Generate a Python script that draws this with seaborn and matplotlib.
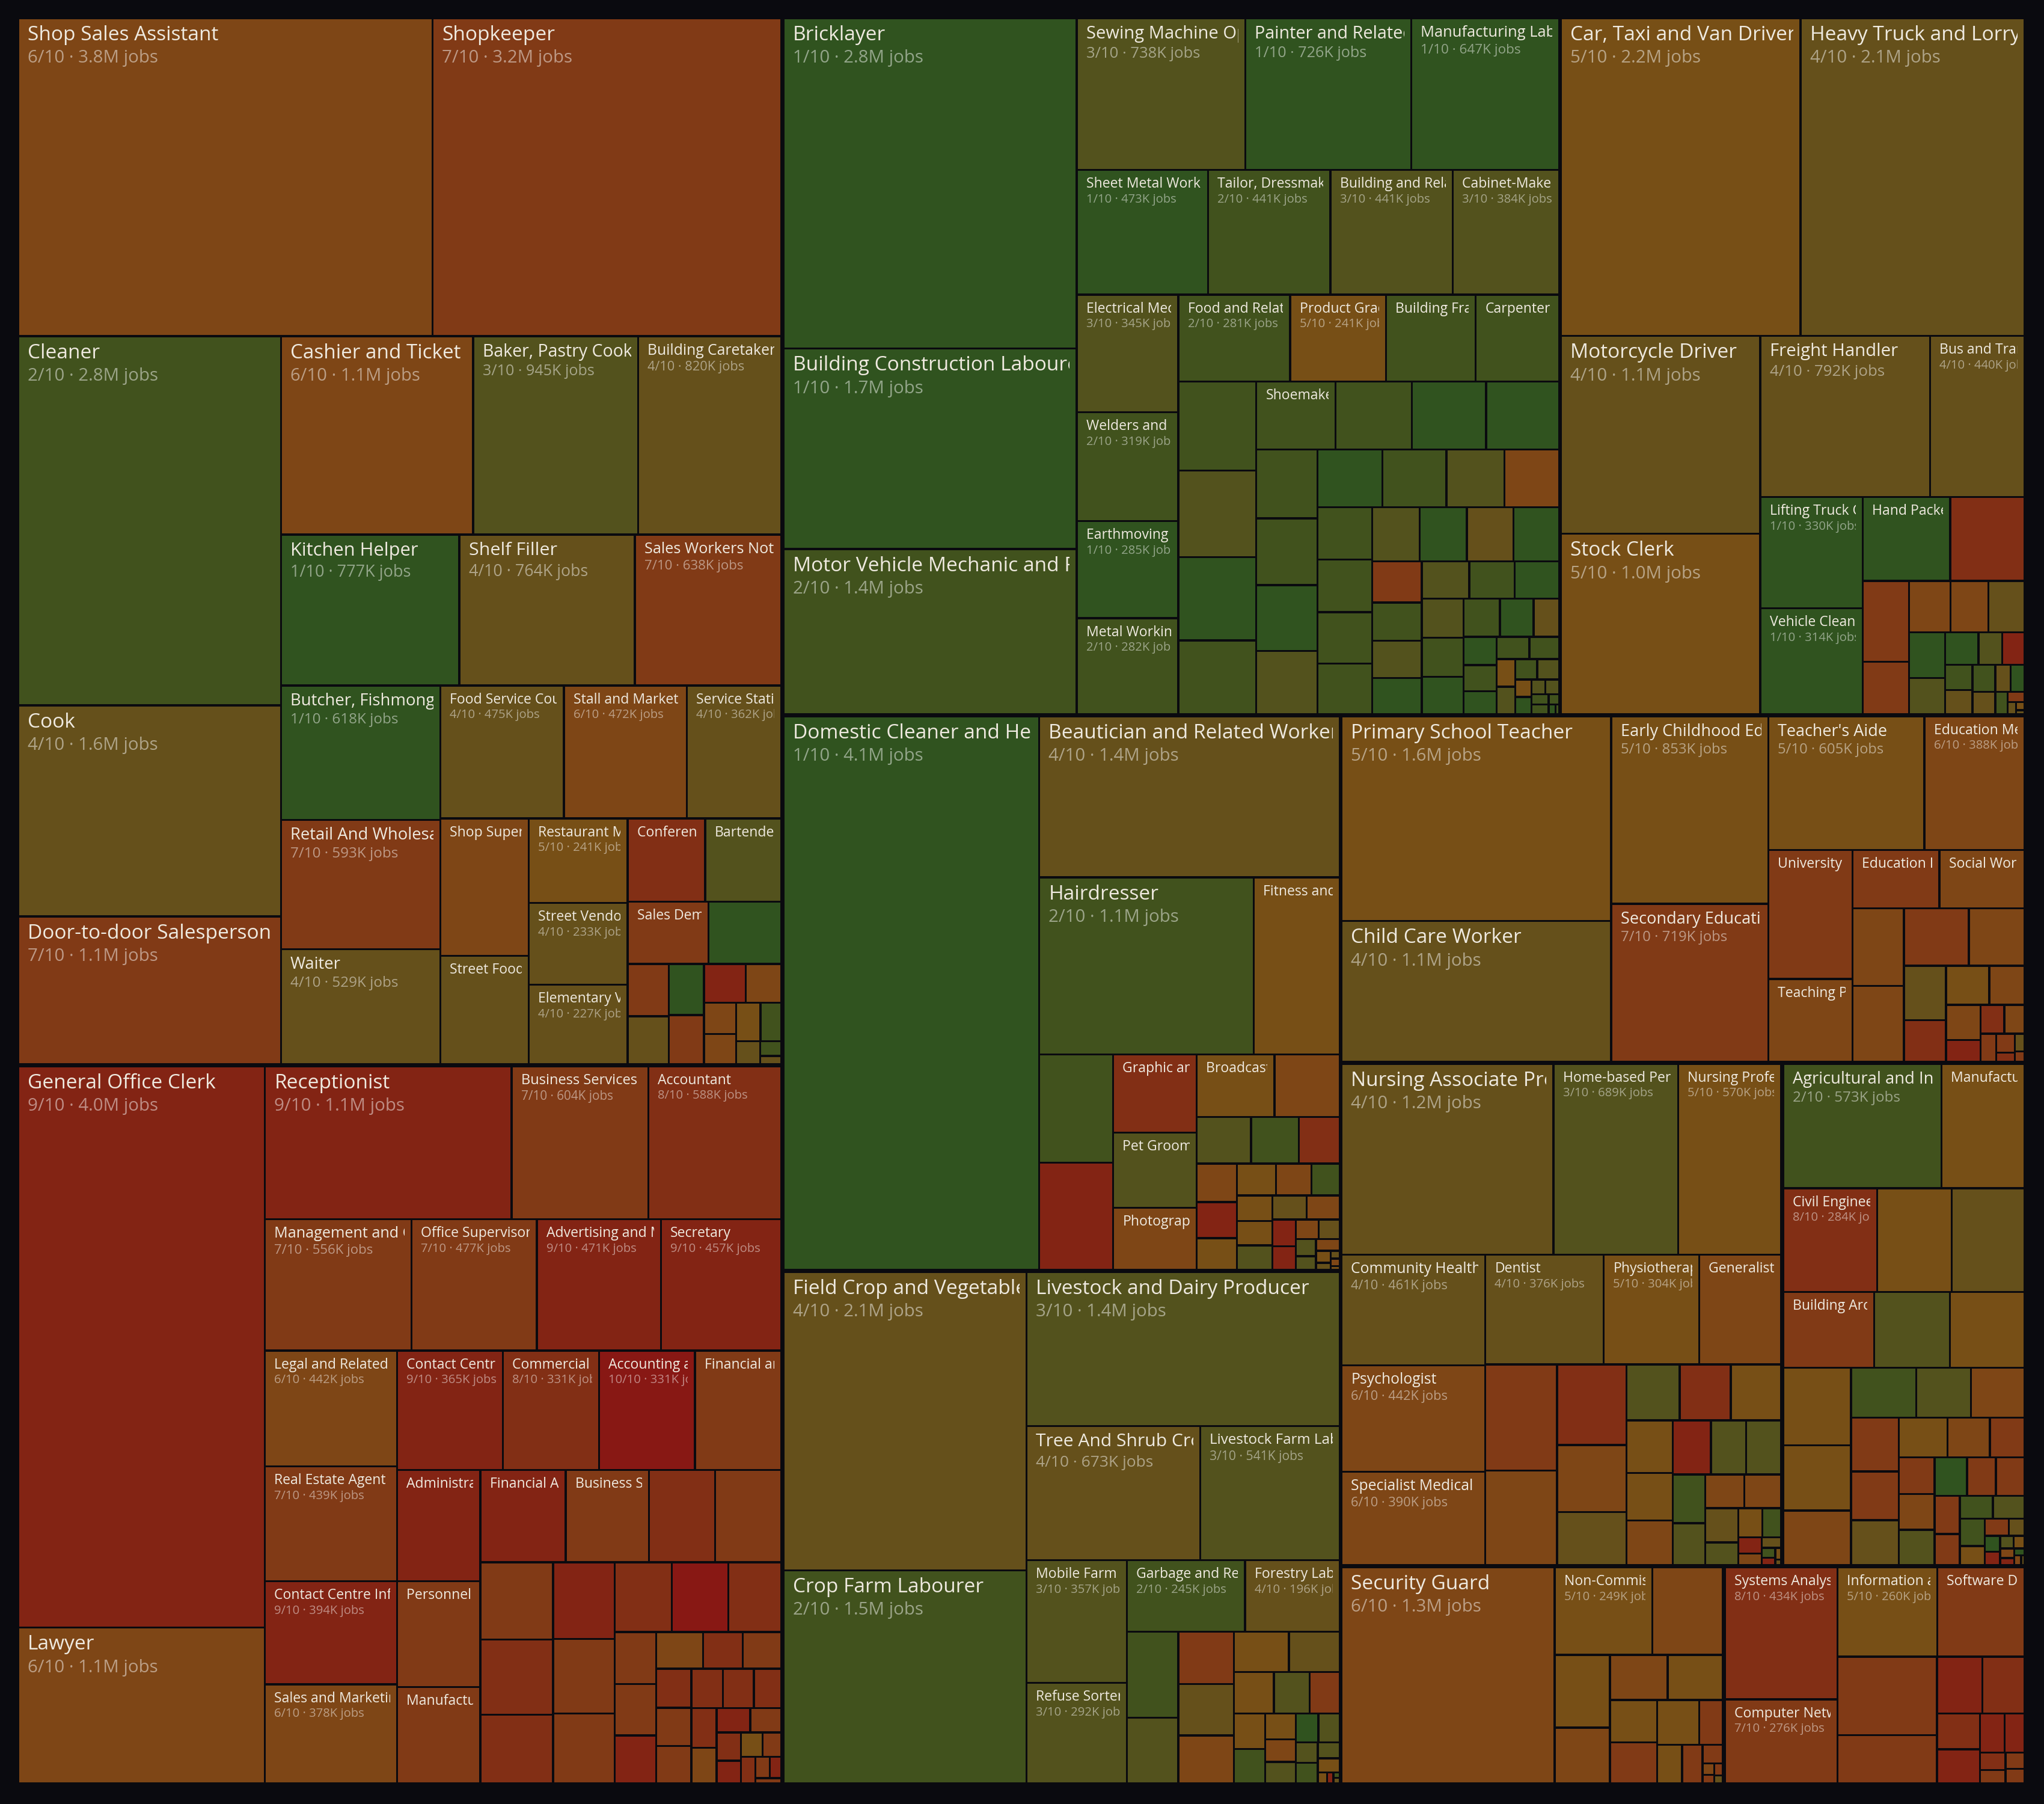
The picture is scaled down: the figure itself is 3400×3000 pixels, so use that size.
import numpy as np
import pandas as pd
import matplotlib
matplotlib.use("Agg")
import matplotlib.pyplot as plt
from matplotlib.patches import Rectangle
import seaborn as sns

# Tema gelap, font diatur setelah set_theme
sns.set_theme(style="dark")
plt.rcParams['font.family'] = ['Open Sans', 'DejaVu Sans']

# Warna skor 1/10 .. 10/10 (hijau -> merah)
SCORE_HEX = ["#30531f", "#41521d", "#53521d", "#65501b", "#774f16",
             "#7e4616", "#813a16", "#822f15", "#832414", "#881814"]
BG = "#0a0a0f"
TITLE_COLOR = "#efeae0"

# ---- data (jobs dalam ribuan) ----
RETAIL_NAMES = ["Shop Sales Assistant", "Shopkeeper", "Cleaner", "Cook", "Door-to-door Salesperson",
                "Cashier and Ticket Clerk", "Baker, Pastry Cook and Confectionery Maker", "Building Caretaker",
                "Kitchen Helper", "Shelf Filler", "Sales Workers Not Elsewhere Classified",
                "Butcher, Fishmonger and Related Food Preparer", "Retail And Wholesale Trade Manager", "Waiter",
                "Food Service Counter Attendant", "Stall and Market Salesperson", "Service Station Attendant",
                "Shop Supervisor", "Street Food Salesperson", "Restaurant Manager", "Street Vendor",
                "Elementary Vending Worker", "Conference and Event Planner", "Bartender", "Sales Demonstrator"]
RETAIL_JOBS = [3800, 3200, 2800, 1600, 1120, 1100, 945, 820, 777, 764, 638, 618, 593, 529, 475, 472, 362,
               350, 277, 241, 233, 227, 186, 183, 145, 131, 62, 57, 52, 50, 47, 40, 29, 28, 27, 23, 16, 9, 5]
RETAIL_SCORES = [6, 7, 2, 4, 7, 6, 3, 4, 1, 4, 7, 1, 7, 4, 4, 6, 4, 6, 4, 5, 4, 4, 8, 3, 7, 1,
                 7, 4, 1, 7, 9, 6, 6, 6, 5, 2, 4, 2, 4]

OFFICE_NAMES = ["General Office Clerk", "Lawyer", "Receptionist", "Business Services and Administration Manager",
                "Accountant", "Management and Organisation Analyst", "Office Supervisor",
                "Advertising and Marketing Professional", "Secretary", "Legal and Related Associate Professional",
                "Real Estate Agent", "Contact Centre Information Clerk", "Sales and Marketing Manager",
                "Contact Centre Salesperson", "Commercial Sales Representative", "Accounting and Bookkeeping Clerk",
                "Financial and Insurance Services Manager", "Administrative and Executive Secretary",
                "Personnel and Careers Professional", "Manufacturing Manager", "Financial Analyst",
                "Business Services Agent"]
OFFICE_JOBS = [4000, 1110, 1090, 604, 588, 556, 477, 471, 457, 442, 439, 394, 378, 365, 331, 331, 298,
               267, 254, 231, 227, 222, 176, 176, 162, 158, 144, 137, 133, 125, 115, 113, 107,
               62, 61, 57, 50, 42, 41, 40, 39, 38, 36, 35, 31, 29, 26, 24, 22, 20, 16, 15, 13, 11, 9, 7, 4]
OFFICE_SCORES = [9, 6, 9, 7, 8, 7, 7, 9, 9, 6, 7, 9, 6, 9, 8, 10, 7, 9, 7, 7, 9, 7, 8, 7, 7, 8, 8, 9, 7, 7,
                 8, 10, 8, 7, 7, 9, 6, 8, 7, 8, 7, 7, 8, 8, 8, 8, 6, 9, 7, 8, 9, 5, 7, 8, 7, 9, 7]

TRADES_NAMES = ["Bricklayer", "Building Construction Labourer", "Motor Vehicle Mechanic and Repairer",
                "Sewing Machine Operator", "Painter and Related Worker", "Manufacturing Labourer",
                "Sheet Metal Worker", "Tailor, Dressmaker and Furrier", "Building and Related Trades Worker",
                "Cabinet-Maker and Related Worker", "Electrical Mechanic and Fitter", "Welders and Flame Cutters",
                "Earthmoving Plant Operator", "Metal Working Machine Tool Setter",
                "Food and Related Products Machine Operator", "Product Grader and Tester",
                "Building Frame Worker", "Carpenter", "", "", "", "", "Shoemaker"]
TRADES_JOBS = [2800, 1700, 1400, 738, 726, 647, 473, 441, 441, 384, 345, 319, 285, 282, 281, 241, 225, 210,
               200, 195, 188, 166, 156, 150, 146, 144, 121, 118, 116, 112, 108, 106, 96, 91, 83, 83, 81, 80,
               75, 74, 73, 72, 59, 55, 54, 52, 51, 49, 48, 47, 47, 45, 40, 37, 28, 27, 25, 22, 21, 19,
               15, 15, 13, 13, 8, 8, 6, 6, 5, 5, 3, 2, 1]
TRADES_SCORES = [1, 1, 2, 3, 1, 1, 1, 2, 3, 3, 3, 2, 1, 2, 2, 5, 2, 2, 2, 3, 1, 2, 2, 2, 1, 1, 2, 2, 1, 3,
                 1, 2, 3, 6, 2, 2, 2, 2, 3, 1, 4, 1, 7, 2, 3, 1, 3, 2, 1, 3, 2, 1, 2, 1, 4, 1, 2, 1, 2, 2,
                 5, 3, 2, 3, 5, 1, 3, 3, 2, 2, 2, 1, 2]

TRANSPORT_NAMES = ["Car, Taxi and Van Driver", "Heavy Truck and Lorry Driver", "Motorcycle Driver",
                   "Stock Clerk", "Freight Handler", "Bus and Tram Driver", "Lifting Truck Operator",
                   "Vehicle Cleaner", "Hand Packer"]
TRANSPORT_JOBS = [2200, 2060, 1140, 1040, 792, 440, 330, 314, 212, 180, 108, 70, 62, 56, 54, 48, 38, 31,
                  22, 21, 20, 19, 18, 15, 12, 11, 8, 5, 3, 2, 1]
TRANSPORT_SCORES = [5, 4, 4, 5, 4, 4, 1, 1, 1, 8, 7, 7, 6, 6, 4, 1, 3, 1, 3, 9, 2, 4, 2, 4, 4, 1, 2, 7, 4, 5, 4]

PERSONAL_NAMES = ["Domestic Cleaner and Helper", "Beautician and Related Worker", "Hairdresser",
                  "Fitness and Recreation Instructor", "", "", "Graphic and Multimedia Designer",
                  "Pet Groomer and Animal Care Worker", "Photographer", "Broadcasting and Audio-visual Technician"]
PERSONAL_JOBS = [4100, 1400, 1100, 440, 232, 229, 189, 182, 150, 141, 118, 73, 64, 55, 45, 42, 37, 36, 33,
                 26, 26, 25, 25, 24, 23, 18, 16, 13, 12, 10, 8, 8, 5, 3, 2, 2, 1]
PERSONAL_SCORES = [1, 4, 2, 5, 2, 9, 8, 3, 6, 5, 6, 3, 2, 8, 6, 9, 5, 5, 6, 2, 5, 5, 3, 4, 6,
                   9, 9, 6, 4, 3, 3, 6, 5, 4, 4, 6, 5]

FARM_NAMES = ["Field Crop and Vegetable Grower", "Crop Farm Labourer", "Livestock and Dairy Producer",
              "Tree And Shrub Crop Grower", "Livestock Farm Labourer", "Mobile Farm and Forestry Plant Operator",
              "Refuse Sorter", "Garbage and Recycling Collector", "Forestry Labourer"]
FARM_JOBS = [2100, 1500, 1400, 673, 541, 357, 292, 245, 196, 128, 98, 84, 83, 77, 64, 59, 48, 43, 36, 32,
             31, 23, 20, 19, 19, 18, 13, 13, 10, 9, 3, 2, 1, 1]
FARM_SCORES = [4, 2, 3, 4, 3, 3, 3, 2, 4, 2, 3, 7, 4, 6, 5, 4, 5, 3, 7, 5, 2, 5, 6, 3, 1, 3, 3, 2, 3, 5,
               5, 9, 2, 4]

EDUCATION_NAMES = ["Primary School Teacher", "Child Care Worker", "Early Childhood Educator",
                   "Secondary Education Teacher", "Teacher's Aide", "Education Methods Specialist",
                   "University and Higher Education Teacher", "Teaching Professionals Not Elsewhere Classified",
                   "Education Inspector", "Social Work Associate Professional"]
EDUCATION_JOBS = [1600, 1100, 853, 719, 605, 388, 316, 203, 147, 144, 115, 113, 108, 93, 66, 51, 49, 40,
                  35, 22, 20, 17, 13, 10, 5, 5, 3]
EDUCATION_SCORES = [5, 4, 5, 7, 5, 6, 7, 6, 7, 6, 6, 6, 7, 6, 4, 8, 5, 6, 6, 9, 8, 6, 7, 7, 8, 4, 7]

HEALTH_NAMES = ["Nursing Associate Professional", "Home-based Personal Care Worker", "Nursing Professional",
                "Community Health Worker", "Psychologist", "Specialist Medical Practitioner", "Dentist",
                "Physiotherapist", "Generalist Medical Practitioner"]
HEALTH_JOBS = [1170, 689, 570, 461, 442, 390, 376, 304, 260, 220, 197, 163, 135, 108, 86, 83, 82, 70, 63,
               60, 60, 55, 55, 46, 40, 38, 36, 33, 22, 20, 16, 11, 8, 6, 4, 3, 2, 1]
HEALTH_SCORES = [4, 3, 5, 4, 6, 6, 4, 5, 6, 7, 6, 8, 6, 4, 3, 8, 5, 5, 5, 6, 9, 3, 3, 2, 3, 6, 6, 4, 3, 5,
                 2, 9, 6, 4, 2, 9, 5, 4]

ENGINEERING_NAMES = ["Agricultural and Industrial Machinery Mechanic", "Manufacturing Supervisor",
                     "Civil Engineer", "", "", "Building Architect"]
ENGINEERING_JOBS = [573, 300, 284, 225, 220, 200, 166, 164, 153, 129, 108, 95, 80, 78, 75, 68, 63, 56, 49,
                    40, 38, 37, 37, 36, 32, 32, 28, 23, 22, 21, 20, 14, 12, 8, 7, 6, 5, 4, 4, 3, 2, 2, 1]
ENGINEERING_SCORES = [2, 5, 8, 5, 4, 7, 3, 5, 5, 5, 6, 2, 3, 6, 7, 7, 4, 5, 6, 7, 7, 6, 3, 1, 7, 7, 7, 7,
                      2, 3, 2, 5, 7, 4, 1, 9, 3, 5, 6, 9, 1, 6, 4]

PROTECTIVE_NAMES = ["Security Guard", "Non-Commissioned Armed Forces Officer"]
PROTECTIVE_JOBS = [1340, 249, 180, 118, 90, 76, 73, 58, 56, 55, 31, 28, 23, 11, 4, 3, 3, 2]
PROTECTIVE_SCORES = [6, 5, 6, 5, 6, 6, 5, 5, 7, 5, 7, 5, 7, 7, 6, 7, 7, 4]

IT_NAMES = ["Systems Analyst", "Computer Network Professional", "Information and Communications Technician",
            "Software Developer"]
IT_JOBS = [434, 276, 260, 228, 227, 140, 75, 70, 45, 43, 28, 23, 13, 10, 9, 8]
IT_SCORES = [8, 7, 5, 7, 7, 7, 9, 8, 8, 9, 9, 9, 8, 7, 7, 7]

GROUPS = [
    (RETAIL_NAMES, RETAIL_JOBS, RETAIL_SCORES),
    (OFFICE_NAMES, OFFICE_JOBS, OFFICE_SCORES),
    (TRADES_NAMES, TRADES_JOBS, TRADES_SCORES),
    (TRANSPORT_NAMES, TRANSPORT_JOBS, TRANSPORT_SCORES),
    (PERSONAL_NAMES, PERSONAL_JOBS, PERSONAL_SCORES),
    (FARM_NAMES, FARM_JOBS, FARM_SCORES),
    (EDUCATION_NAMES, EDUCATION_JOBS, EDUCATION_SCORES),
    (HEALTH_NAMES, HEALTH_JOBS, HEALTH_SCORES),
    (ENGINEERING_NAMES, ENGINEERING_JOBS, ENGINEERING_SCORES),
    (PROTECTIVE_NAMES, PROTECTIVE_JOBS, PROTECTIVE_SCORES),
    (IT_NAMES, IT_JOBS, IT_SCORES),
]


def squarify(values, x0, y0, x1, y1):
    # squarified treemap (rasio 1), baris di sisi yang lebih pendek
    rects = []
    n = len(values)
    total = float(sum(values))
    i0 = 0
    while i0 < n:
        dx, dy = x1 - x0, y1 - y0
        i1 = i0
        s = values[i1]
        i1 += 1
        mn = mx = s
        alpha = max(dy / dx, dx / dy) / total
        beta = s * s * alpha
        best = max(mx / beta, beta / mn)
        while i1 < n:
            v = values[i1]
            s2 = s + v
            mn2, mx2 = min(mn, v), max(mx, v)
            beta = s2 * s2 * alpha
            r = max(mx2 / beta, beta / mn2)
            if r > best:
                break
            s, mn, mx, best = s2, mn2, mx2, r
            i1 += 1
        row = values[i0:i1]
        if dx < dy:
            h = dy * s / total
            xx = x0
            for v in row:
                w = dx * v / s
                rects.append((xx, y0, xx + w, y0 + h))
                xx += w
            y0 += h
        else:
            w = dx * s / total
            yy = y0
            for v in row:
                h = dy * v / s
                rects.append((x0, yy, x0 + w, yy + h))
                yy += h
            x0 += w
        total -= s
        i0 = i1
    return rects


def fmt_jobs(v):
    return f"{v / 1000:.1f}M" if v >= 1000 else f"{v}K"


frames = []
for names, jobs, scores in GROUPS:
    assert len(jobs) == len(scores)
    df = pd.DataFrame({"label": list(names) + [""] * (len(jobs) - len(names)),
                       "jobs": jobs, "score": scores})
    df = df.sort_values("jobs", ascending=False, kind="stable").reset_index(drop=True)
    frames.append(df)

frames.sort(key=lambda d: -d["jobs"].sum())

X0, Y0, X1, Y1 = 32, 32, 3366, 2964
PG = 3.3   # setengah jarak antar grup
PI = 1.7   # setengah jarak antar sel

palette = sns.color_palette(SCORE_HEX)

fig = plt.figure(figsize=(34, 30), dpi=100, facecolor=BG)
ax = fig.add_axes([0, 0, 1, 1])
ax.set_facecolor(BG)
ax.set_xlim(0, 3400)
ax.set_ylim(3000, 0)
ax.axis("off")

group_rects = squarify([d["jobs"].sum() for d in frames], X0 - PG, Y0 - PG, X1 + PG, Y1 + PG)

for df, (gx0, gy0, gx1, gy1) in zip(frames, group_rects):
    gx0, gy0, gx1, gy1 = gx0 + PG, gy0 + PG, gx1 - PG, gy1 - PG
    cells = squarify(df["jobs"].tolist(), gx0 - PI, gy0 - PI, gx1 + PI, gy1 + PI)
    for (cx0, cy0, cx1, cy1), row in zip(cells, df.itertuples()):
        cx0, cy0, cx1, cy1 = cx0 + PI, cy0 + PI, cx1 - PI, cy1 - PI
        w, h = cx1 - cx0, cy1 - cy0
        ax.add_patch(Rectangle((cx0, cy0), w, h, facecolor=palette[row.score - 1],
                               edgecolor="none", lw=0))
        if row.label and w >= 120 and h >= 80:
            fpx = float(np.clip(w / 9.5, 23, 33.5))
            clip = Rectangle((cx0, cy0), w - 10, h, transform=ax.transData)
            t = ax.text(cx0 + 14, cy0 + 10, row.label, fontsize=fpx * 0.72, color=TITLE_COLOR,
                        ha="left", va="top", clip_on=True)
            t.set_clip_path(clip)
            if w >= 150 and h >= 90:
                t2 = ax.text(cx0 + 14, cy0 + 10 + 1.2 * fpx,
                             f"{row.score}/10 \u00b7 {fmt_jobs(row.jobs)} jobs",
                             fontsize=fpx * 0.88 * 0.72, color=(1, 1, 1, 0.48),
                             ha="left", va="top", clip_on=True)
                t2.set_clip_path(clip)

fig.savefig("out.png", dpi=100, facecolor=BG)
